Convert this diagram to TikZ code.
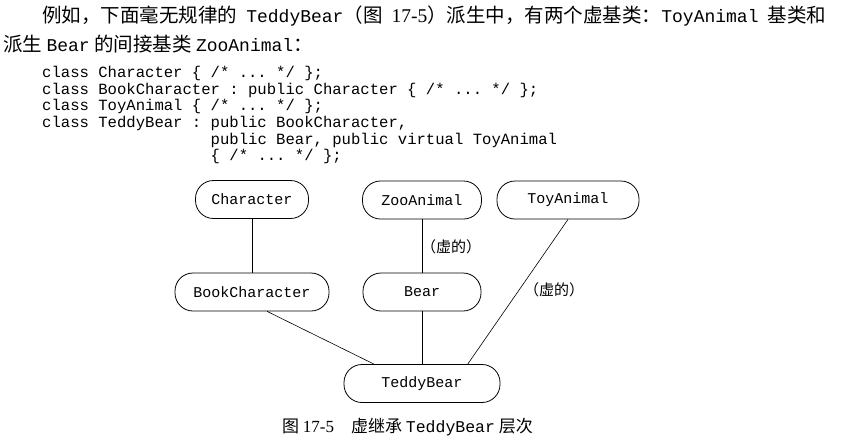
\documentclass[tikz,border=0pt]{standalone}
\usepackage{fontspec}
\setmainfont{Noto Sans CJK SC}
\setmonofont{Liberation Mono}
\newfontfamily\serifnum{Liberation Serif}
\usetikzlibrary{positioning}
\newcommand{\tyname}[1]{{\fontsize{18}{18}\ttfamily #1}}
\tikzset{
  classbox/.style={draw,line width=0.8pt,rounded corners=18pt,minimum height=38pt,inner sep=0pt,font=\fontsize{15}{15}\ttfamily},
  inherit/.style={line width=0.6pt},
  virtlabel/.style={inner sep=0pt,font=\fontsize{15}{15}\selectfont},
  bodyline/.style={anchor=base west,inner sep=0pt,font=\fontsize{19.5}{19.5}\selectfont},
  codeline/.style={anchor=base west,inner sep=0pt,font=\fontsize{15.6}{15.6}\ttfamily}
}
\begin{document}
\begin{tikzpicture}[x=1pt,y=-1pt]
  \useasboundingbox (0,0) rectangle (846,440);

  % text above the figure (first line is justified)
  \node[bodyline] (para1) at (42,22)
    {\makebox[784pt][s]{例如，下面毫无规律的 \tyname{TeddyBear}（图 {\serifnum 17-5}）派生中，有两个虚基类：\tyname{ToyAnimal} 基类和}};
  \node[bodyline] (para2) at (3,51)
    {派生 \tyname{Bear} 的间接基类 \tyname{ZooAnimal}：};

  \node[codeline] (code1) at (42,77)  {class Character \{ /* ... */ \};};
  \node[codeline] (code2) at (42,94)  {class BookCharacter : public Character \{ /* ... */ \};};
  \node[codeline] (code3) at (42,110) {class ToyAnimal \{ /* ... */ \};};
  \node[codeline] (code4) at (42,127) {class TeddyBear : public BookCharacter,};
  \node[codeline] (code5) at (42,144) {\hphantom{class TeddyBear : }public Bear, public virtual ToyAnimal};
  \node[codeline] (code6) at (42,160) {\hphantom{class TeddyBear : }\{ /* ... */ \};};

  % the hierarchy
  \node[classbox,minimum width=113pt] (character) at (252,199.5) {Character};
  \node[classbox,minimum width=119pt] (zoo)       at (422,200)   {ZooAnimal};
  \node[classbox,minimum width=142pt] (toy)       at (568,200)   {ToyAnimal};
  \node[classbox,minimum width=154pt] (bookchar)  at (252,292)   {BookCharacter};
  \node[classbox,minimum width=118pt] (bear)      at (422,292)   {Bear};
  \node[classbox,minimum width=156pt] (teddy)     at (422,383.5) {TeddyBear};

  \draw[inherit] (character) -- (bookchar);
  \draw[inherit] (zoo) -- (bear);
  \draw[inherit] (toy.south) -- (teddy.23);
  \draw[inherit] (bookchar.-52) -- (teddy.158);
  \draw[inherit] (bear) -- (teddy);

  \node[virtlabel] (zoovirt) at (451,247) {（虚的）};
  \node[virtlabel] (toyvirt) at (554,290) {（虚的）};

  \node[font=\fontsize{17}{17}\selectfont,inner sep=0pt] (caption) at (407.5,427)
    {图 {\serifnum 17-5}\quad 虚继承 {\fontsize{16.5}{16.5}\ttfamily TeddyBear} 层次};
\end{tikzpicture}
\end{document}
